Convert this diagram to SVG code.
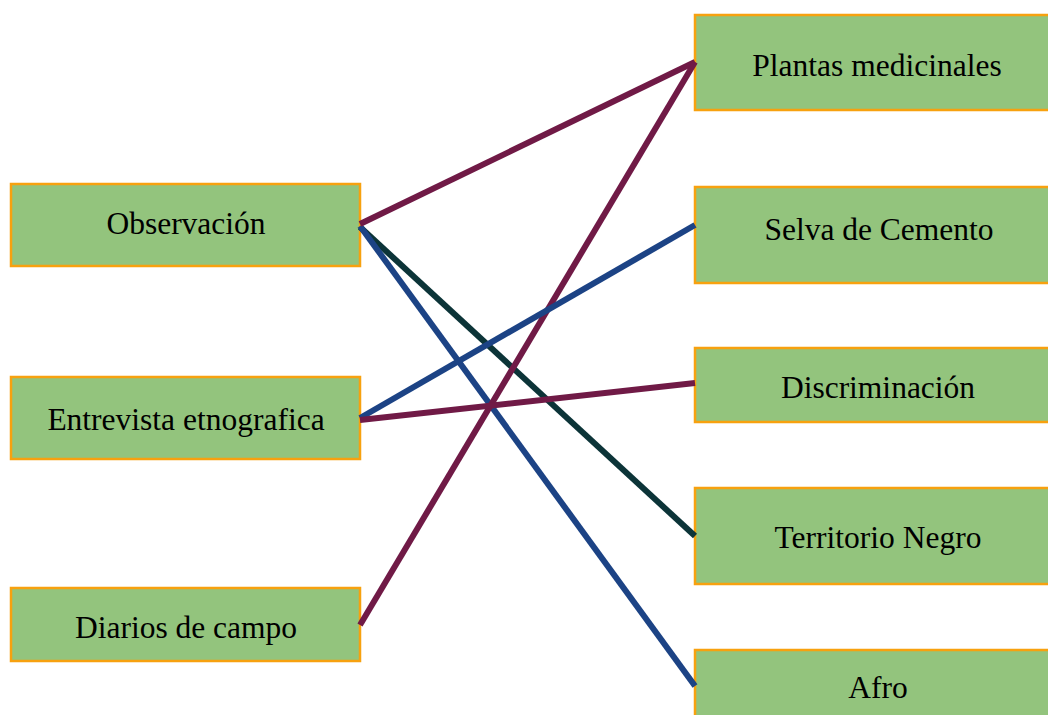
<svg xmlns="http://www.w3.org/2000/svg" width="1048" height="715" viewBox="0 0 1048 715">
<style>
.box{fill:#93C47D;stroke:#F7A10F;stroke-width:2.5}
.lbl{font-family:"Liberation Serif","Times New Roman",serif;font-size:31.5px;fill:#000;text-anchor:middle}
.c{stroke-width:6;fill:none;stroke-linecap:butt}
.m{stroke:#701A46}.b{stroke:#1C4385}.t{stroke:#0C3438}
</style>
<rect width="1048" height="715" fill="#fff"/>
<g id="n-observacion"><rect class="box" x="11" y="184" width="349" height="82"/><text class="lbl" x="186" y="234">Observación</text></g>
<g id="n-entrevista"><rect class="box" x="11" y="377" width="349" height="82"/><text class="lbl" x="186" y="430">Entrevista etnografica</text></g>
<g id="n-diarios"><rect class="box" x="11" y="588" width="349" height="73"/><text class="lbl" x="186" y="638">Diarios de campo</text></g>
<g id="n-plantas"><rect class="box" x="695" y="15" width="365" height="95"/><text class="lbl" x="877" y="76">Plantas medicinales</text></g>
<g id="n-selva"><rect class="box" x="695" y="187" width="365" height="96"/><text class="lbl" x="879" y="240">Selva de Cemento</text></g>
<g id="n-discriminacion"><rect class="box" x="695" y="348" width="365" height="74"/><text class="lbl" x="878" y="398">Discriminación</text></g>
<g id="n-territorio"><rect class="box" x="695" y="488" width="365" height="96"/><text class="lbl" x="878" y="548">Territorio Negro</text></g>
<g id="n-afro"><rect class="box" x="695" y="650" width="365" height="80"/><text class="lbl" x="878" y="698">Afro</text></g>
<g id="connectors">
<line class="c t" x1="360" y1="227" x2="695" y2="536"/>
<line class="c b" x1="360" y1="226" x2="695" y2="686"/>
<line class="c m" x1="360" y1="224" x2="695" y2="62"/>
<line class="c m" x1="360" y1="625" x2="695" y2="62"/>
<line class="c b" x1="360" y1="418" x2="695" y2="225"/>
<line class="c m" x1="360" y1="420" x2="695" y2="383"/>
</g>
</svg>
